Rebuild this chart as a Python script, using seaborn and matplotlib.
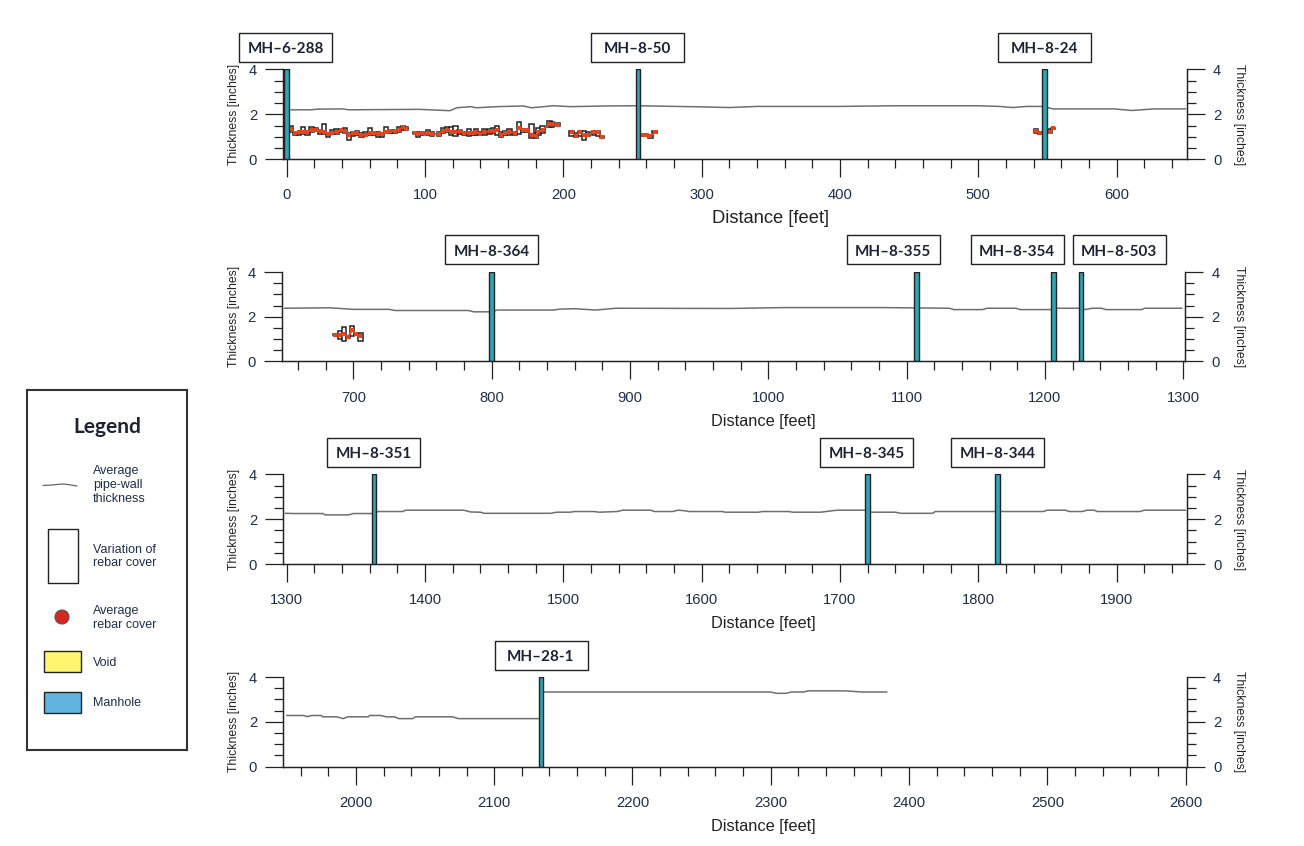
import pandas as pd
import matplotlib
matplotlib.use("Agg")
import matplotlib.pyplot as plt
import seaborn as sns
from matplotlib.patches import Rectangle, Ellipse
from matplotlib.ticker import MultipleLocator

# average pipe-wall thickness, one pair of lists per panel
wall_x_1 = [3, 18, 22, 40, 45, 96, 118, 123, 133, 137, 152, 171, 177, 193, 205, 231, 254, 300, 320, 340, 400, 440, 500, 515, 525, 535, 547, 554, 598, 611, 627, 650]
wall_y_1 = [2.20, 2.20, 2.23, 2.24, 2.20, 2.22, 2.16, 2.29, 2.34, 2.29, 2.34, 2.37, 2.29, 2.38, 2.34, 2.37, 2.38, 2.33, 2.30, 2.35, 2.35, 2.38, 2.38, 2.35, 2.30, 2.35, 2.35, 2.24, 2.24, 2.17, 2.24, 2.24]
wall_x_2 = [650, 683, 700, 726, 730, 783, 787, 800, 804, 845, 849, 860, 875, 890, 972, 1012, 1082, 1131, 1134, 1155, 1158, 1179, 1182, 1204, 1207, 1224, 1229, 1234, 1241, 1244, 1270, 1272, 1299]
wall_y_2 = [2.38, 2.40, 2.33, 2.33, 2.28, 2.28, 2.22, 2.22, 2.30, 2.30, 2.34, 2.36, 2.30, 2.38, 2.37, 2.41, 2.41, 2.38, 2.32, 2.32, 2.38, 2.38, 2.32, 2.32, 2.38, 2.38, 2.32, 2.38, 2.38, 2.32, 2.32, 2.38, 2.38]
wall_x_3 = [1299, 1306, 1326, 1328, 1345, 1348, 1362, 1366, 1384, 1386, 1428, 1433, 1440, 1443, 1491, 1495, 1505, 1508, 1522, 1526, 1539, 1543, 1563, 1566, 1579, 1583, 1587, 1591, 1615, 1617, 1641, 1644, 1663, 1666, 1686, 1698, 1719, 1721, 1740, 1744, 1767, 1769, 1847, 1850, 1863, 1866, 1875, 1879, 1884, 1886, 1917, 1920, 1950]
wall_y_3 = [2.26, 2.25, 2.25, 2.19, 2.19, 2.25, 2.25, 2.34, 2.34, 2.40, 2.40, 2.32, 2.31, 2.26, 2.26, 2.31, 2.31, 2.34, 2.34, 2.31, 2.34, 2.40, 2.40, 2.34, 2.34, 2.40, 2.38, 2.34, 2.34, 2.31, 2.31, 2.34, 2.34, 2.31, 2.31, 2.40, 2.40, 2.31, 2.31, 2.26, 2.26, 2.34, 2.34, 2.40, 2.40, 2.34, 2.34, 2.40, 2.40, 2.34, 2.34, 2.40, 2.40]
wall_x_4 = [1950, 1962, 1965, 1968, 1975, 1976, 1986, 1991, 1994, 2009, 2010, 2018, 2022, 2028, 2031, 2041, 2043, 2070, 2074, 2134, 2135, 2300, 2304, 2311, 2315, 2324, 2327, 2354, 2366, 2384]
wall_y_4 = [2.28, 2.28, 2.23, 2.28, 2.28, 2.22, 2.22, 2.14, 2.22, 2.22, 2.28, 2.28, 2.22, 2.22, 2.14, 2.14, 2.22, 2.22, 2.14, 2.14, 3.33, 3.33, 3.27, 3.27, 3.33, 3.33, 3.38, 3.38, 3.33, 3.33]

# rebar cover, only panels 1 and 2 have any
rebar_x_1 = [3, 6, 9, 12, 15, 18, 21, 24, 27, 30, 33, 36, 39, 42, 45, 48, 51, 54, 57, 60, 63, 66, 69, 72, 75, 78, 81, 84, 86,
             93, 95, 98, 102, 105, 110, 113, 116, 119, 122, 125, 128, 132, 135, 137, 140, 143, 147, 149, 152, 155, 158, 161, 165, 168, 171, 174, 177, 180, 182, 185, 190, 192, 196,
             206, 209, 212, 215, 218, 222, 225, 228,
             257, 260, 263, 266,
             542, 545, 552, 554]
rebar_lo_1 = [1.23, 1.06, 1.08, 1.14, 1.10, 1.22, 1.25, 1.14, 1.14, 0.97, 1.12, 1.14, 1.22, 1.16, 0.87, 1.04, 1.10, 0.98, 1.10, 1.10, 1.08, 0.98, 0.98, 1.18, 1.18, 1.18, 1.20, 1.32, 1.32,
              1.12, 0.97, 1.08, 1.10, 1.04, 1.04, 1.18, 1.22, 1.08, 1.04, 1.12, 1.08, 1.04, 1.10, 1.10, 1.08, 1.08, 1.12, 1.18, 1.08, 1.00, 1.10, 1.08, 1.10, 1.14, 1.22, 1.22, 0.96, 0.96, 1.08, 1.18, 1.44, 1.42, 1.46,
              1.05, 1.00, 1.05, 0.85, 1.05, 1.10, 1.05, 0.95,
              1.05, 1.05, 0.95, 1.15,
              1.16, 1.12, 1.16, 1.35]
rebar_hi_1 = [1.50, 1.20, 1.22, 1.43, 1.20, 1.43, 1.40, 1.32, 1.58, 1.18, 1.32, 1.34, 1.35, 1.40, 1.17, 1.22, 1.26, 1.16, 1.22, 1.38, 1.22, 1.20, 1.18, 1.44, 1.28, 1.30, 1.45, 1.50, 1.42,
              1.22, 1.20, 1.22, 1.28, 1.22, 1.22, 1.40, 1.42, 1.42, 1.48, 1.32, 1.22, 1.34, 1.22, 1.34, 1.20, 1.34, 1.34, 1.38, 1.46, 1.20, 1.26, 1.36, 1.22, 1.66, 1.34, 1.34, 1.56, 1.18, 1.40, 1.50, 1.68, 1.66, 1.60,
              1.27, 1.15, 1.27, 1.27, 1.20, 1.27, 1.27, 1.05,
              1.12, 1.12, 1.10, 1.25,
              1.36, 1.18, 1.36, 1.40]
rebar_avg_1 = [1.33, 1.18, 1.20, 1.23, 1.20, 1.30, 1.30, 1.26, 1.23, 1.12, 1.18, 1.20, 1.30, 1.27, 1.08, 1.15, 1.15, 1.06, 1.10, 1.17, 1.17, 1.12, 1.14, 1.23, 1.24, 1.27, 1.30, 1.45, 1.36,
               1.18, 1.14, 1.15, 1.15, 1.13, 1.13, 1.27, 1.30, 1.20, 1.22, 1.24, 1.19, 1.17, 1.15, 1.20, 1.14, 1.20, 1.25, 1.24, 1.30, 1.09, 1.18, 1.22, 1.18, 1.40, 1.32, 1.30, 1.08, 1.03, 1.22, 1.32, 1.55, 1.55, 1.52,
               1.20, 1.05, 1.20, 1.07, 1.10, 1.20, 1.20, 0.98,
               1.10, 1.10, 1.02, 1.20,
               1.25, 1.15, 1.20, 1.38]
rebar_x_2 = [687, 690, 693, 696, 699, 702, 705]
rebar_lo_2 = [1.18, 1.02, 0.93, 1.06, 1.14, 1.18, 0.93]
rebar_hi_2 = [1.22, 1.38, 1.56, 1.12, 1.60, 1.24, 1.29]
rebar_avg_2 = [1.20, 1.20, 1.22, 1.10, 1.39, 1.21, 1.15]

# manhole chainages and their labels
manhole_x = [[0, 254, 548], [800, 1107, 1206, 1226], [1363, 1720, 1814], [2134]]
manhole_names = [["MH–6-288", "MH–8-50", "MH–8-24"],
                 ["MH–8-364", "MH–8-355", "MH–8-354", "MH–8-503"],
                 ["MH–8-351", "MH–8-345", "MH–8-344"],
                 ["MH–28-1"]]
label_cx = [[285.5, 637, 1044.5], [491.5, 893, 1017, 1119], [373.5, 866.5, 997.5], [541]]

panel_start = [0, 650, 1300, 1950]
panel_top = [69.3, 272, 474.3, 677]
panel_bot = [159.3, 361.5, 564, 766.5]
panel_left = [283.4, 281.7, 283.4, 283.4]
xlabel_cx = [770, 763.5, 763.5, 763.5]
xlabel_cy = [218.5, 421, 623.5, 826]
xlabel_size = [13.2, 11.8, 11.8, 11.8]

W, H = 1304, 846
PX_PER_FT = 1.383
INK = "#222222"
NAVY = "#1f2d4d"
ORANGE = "#e8431a"
TEAL = "#2aa7b8"

sns.set_theme(style="ticks")
plt.rcParams["font.family"] = ["Liberation Sans", "DejaVu Sans"]

fig = plt.figure(figsize=(W / 100, H / 100), dpi=100)


def draw_panel(i, wall_x, wall_y, rebar=None):
    left = panel_left[i]
    width = 903.3
    ax = fig.add_axes([left / W, 1 - panel_bot[i] / H, width / W, (panel_bot[i] - panel_top[i]) / H])
    x0 = panel_start[i] - (2.4 if i != 1 else 1.9)

    wall = pd.DataFrame({"x": wall_x, "y": wall_y})
    sns.lineplot(data=wall, x="x", y="y", ax=ax, color="#6f6f6f", linewidth=1.1, estimator=None, sort=False, zorder=2)

    if rebar is not None:
        df = pd.DataFrame(dict(zip(["x", "lo", "hi", "avg"], rebar)))
        df["seg"] = (df["x"].diff() > 6).cumsum()
        ax.bar(df["x"], df["hi"] - df["lo"], bottom=df["lo"], width=3.1, facecolor="white",
               edgecolor=INK, linewidth=1.1, zorder=3)
        sns.lineplot(data=df, x="x", y="avg", units="seg", estimator=None, ax=ax, color=ORANGE,
                     linewidth=1.3, marker="s", markersize=2.8, markeredgewidth=0, zorder=4)

    ax.bar(manhole_x[i], [4] * len(manhole_x[i]), width=3.3, facecolor=TEAL, edgecolor=INK, linewidth=1.0, zorder=5)

    ax.set_xlim(x0, x0 + width / PX_PER_FT)
    ax.set_ylim(0, 4)
    ax.xaxis.set_major_locator(MultipleLocator(100))
    ax.xaxis.set_minor_locator(MultipleLocator(20))
    ax.tick_params(axis="x", which="major", length=13, width=0.9, color=INK, pad=8, labelsize=10.6, labelcolor=NAVY)
    ax.tick_params(axis="x", which="minor", length=6.8, width=0.9, color=INK)

    ax2 = ax.twinx()
    ax2.set_ylim(0, 4)
    for a, side in ((ax, "left"), (ax2, "right")):
        a.yaxis.set_major_locator(MultipleLocator(2))
        a.yaxis.set_minor_locator(MultipleLocator(0.5))
        a.tick_params(axis="y", which="major", length=13, width=0.9, color=INK, pad=6, labelsize=10.6, labelcolor=NAVY)
        a.tick_params(axis="y", which="minor", length=6.8, width=0.9, color=INK)
        a.spines["top"].set_visible(False)
        for s in a.spines.values():
            s.set_linewidth(0.9)
            s.set_color(INK)
    ax.set_ylabel("Thickness [inches]", fontsize=8.8, color=INK)
    ax.yaxis.set_label_coords((240 - left) / width, 0.5)
    ax2.set_ylabel("Thickness [inches]", fontsize=8.8, color=INK, rotation=270, va="center")
    ax2.yaxis.set_label_coords((1239 - left) / width, 0.5)

    ax.set_xlabel("")
    fig.text(xlabel_cx[i] / W, 1 - xlabel_cy[i] / H, "Distance [feet]", fontsize=xlabel_size[i],
             ha="center", va="center", color=INK)

    # label boxes sit 22 px above the panel
    cy = panel_top[i] - 22
    for name, cx in zip(manhole_names[i], label_cx[i]):
        fig.add_artist(Rectangle(((cx - 46.5) / W, 1 - (cy + 14.5) / H), 93 / W, 29 / H, transform=fig.transFigure,
                                 facecolor="white", edgecolor=INK, linewidth=1.0))
        fig.text(cx / W, 1 - (cy + 1.5) / H, name, fontsize=11, fontweight="bold", family="Lato",
                 ha="center", va="center", color="#1c2333")


draw_panel(0, wall_x_1, wall_y_1, (rebar_x_1, rebar_lo_1, rebar_hi_1, rebar_avg_1))
draw_panel(1, wall_x_2, wall_y_2, (rebar_x_2, rebar_lo_2, rebar_hi_2, rebar_avg_2))
draw_panel(2, wall_x_3, wall_y_3)
draw_panel(3, wall_x_4, wall_y_4)

# legend panel, drawn in pixel coordinates of the picture
lg = fig.add_axes([27 / W, 1 - 750 / H, 160 / W, 360 / H])
lg.set_xlim(27, 187)
lg.set_ylim(750, 390)
lg.set_xticks([])
lg.set_yticks([])
for s in lg.spines.values():
    s.set_linewidth(1.5)
    s.set_color("#333333")
lg.text(107, 427.5, "Legend", fontsize=15, fontweight="bold", family="Lato", ha="center", va="center", color="#1c2333")
lg.plot([43, 52, 62, 68, 77], [485.5, 485, 484, 484.5, 486], color="#666666", linewidth=0.9)
lg.add_patch(Rectangle((47.5, 529), 30, 54, facecolor="white", edgecolor=INK, linewidth=1))
lg.add_patch(Ellipse((62, 617), 14, 14, facecolor="#d7261e", edgecolor="#555555", linewidth=0.8))
lg.add_patch(Rectangle((43.5, 651), 37.5, 21, facecolor="#fff56e", edgecolor=INK, linewidth=1))
lg.add_patch(Rectangle((43.5, 692), 37.5, 21, facecolor="#62b4e0", edgecolor=INK, linewidth=1))
for y, txt in [(485, "Average\npipe-wall\nthickness"), (556.5, "Variation of\nrebar cover"),
               (618, "Average\nrebar cover"), (662.5, "Void"), (703.5, "Manhole")]:
    lg.text(93, y, txt, fontsize=9, color=NAVY, ha="left", va="center", linespacing=1.2)

fig.savefig("out.png", dpi=100)
